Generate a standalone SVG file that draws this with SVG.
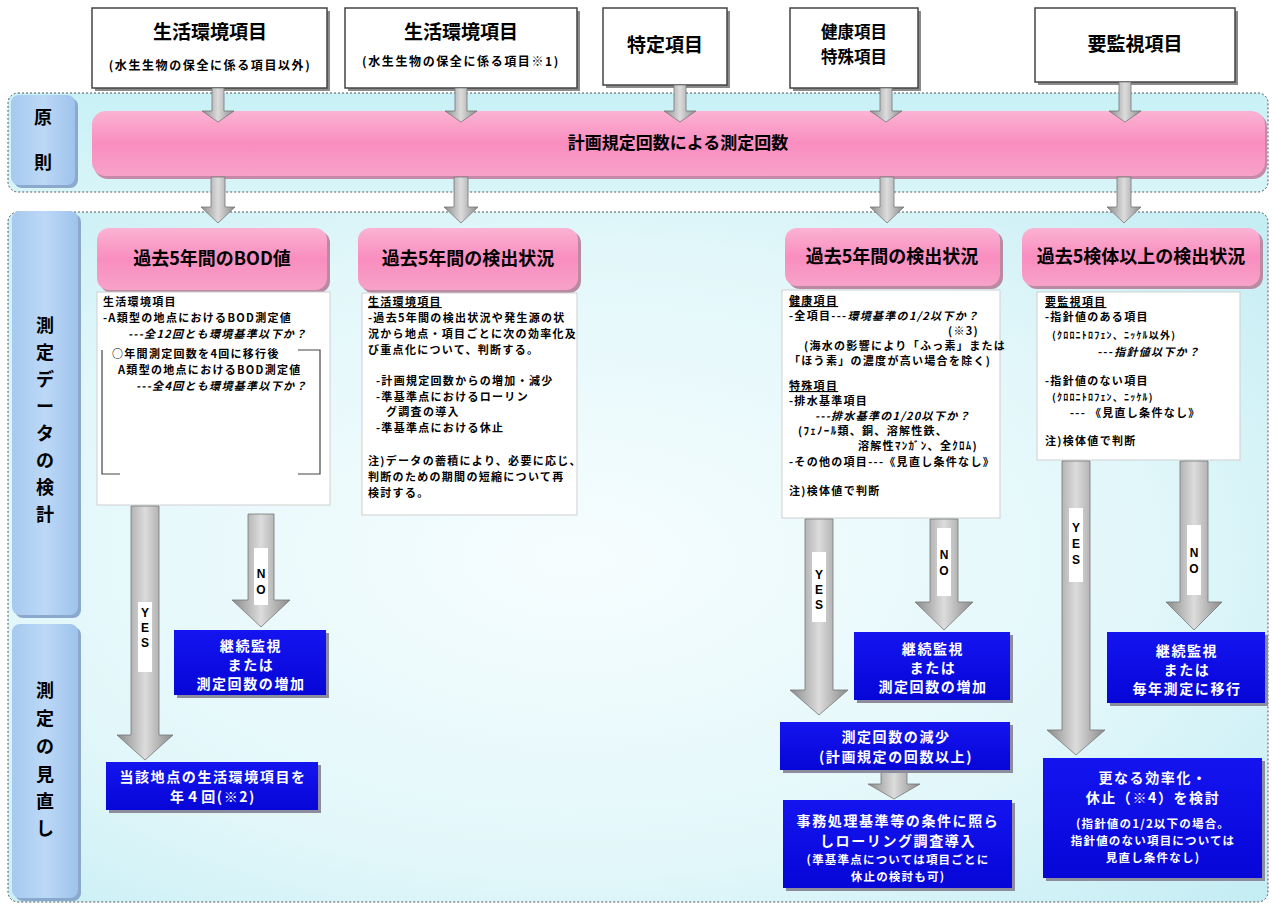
<svg xmlns="http://www.w3.org/2000/svg" width="1272" height="905" viewBox="0 0 1272 905">
<defs>
<linearGradient id="gPink" x1="0" y1="0" x2="0" y2="1">
<stop offset="0" stop-color="#fbb3d3"/><stop offset="0.5" stop-color="#f98dbf"/><stop offset="1" stop-color="#f7a2c9"/>
</linearGradient>
<linearGradient id="gLabel" x1="0" y1="0" x2="1" y2="0">
<stop offset="0" stop-color="#a6c9ef"/><stop offset="0.5" stop-color="#bcd8f6"/><stop offset="1" stop-color="#9ec3ec"/>
</linearGradient>
<linearGradient id="gArrow" x1="0" y1="0" x2="1" y2="0">
<stop offset="0" stop-color="#8a8a8a"/><stop offset="0.5" stop-color="#dcdcdc"/><stop offset="1" stop-color="#8a8a8a"/>
</linearGradient>
<linearGradient id="gBlue" x1="0" y1="0" x2="0" y2="1">
<stop offset="0" stop-color="#1414f0"/><stop offset="1" stop-color="#0606d8"/>
</linearGradient>
<radialGradient id="gBg" cx="0.45" cy="0.5" r="0.75">
<stop offset="0" stop-color="#f6fdfe"/><stop offset="0.6" stop-color="#e2f7fa"/><stop offset="1" stop-color="#c2ecf3"/>
</radialGradient>
<linearGradient id="gBg1" x1="0" y1="0" x2="0" y2="1">
<stop offset="0" stop-color="#c8f1f6"/><stop offset="1" stop-color="#d8f5f8"/>
</linearGradient>
</defs>
<style>
text{font-family:"Noto Sans CJK JP","Noto Sans",sans-serif;font-weight:bold;fill:#000}
.region{stroke:#555;stroke-width:1;stroke-dasharray:2 2}
.topbox{fill:#fff;stroke:#444;stroke-width:1.5}
.shadow{fill:#8a8a8a}
.t19{font-size:19px}
.t17{font-size:16.5px}
.t13{font-size:12px;letter-spacing:1.6px}
.lbl{font-size:18px;text-anchor:middle}
.hdr{font-size:18px;text-anchor:middle}
.band{font-size:17px;text-anchor:middle}
.tb{fill:#fff;stroke:#cfcfcf;stroke-width:1}
.body{font-size:11px;letter-spacing:1.3px}
.sm{font-size:10px;letter-spacing:1.2px}
.it{font-style:italic}
.ul{text-decoration:underline}
.blue{fill:url(#gBlue)}
.bshadow{fill:#8c8c9c}
.wt{fill:#fff;text-anchor:middle;font-size:14px;letter-spacing:1.6px}
.wts{fill:#fff;text-anchor:middle;font-size:11.5px;letter-spacing:1.2px}
.arrow{fill:url(#gArrow);stroke:#777;stroke-width:0.8}
.strip{fill:#fff}
.yn{font-family:"Liberation Sans",Arial,sans-serif;font-size:12px;text-anchor:middle}
.brk{fill:none;stroke:#444;stroke-width:1.2}
</style>

<!-- regions -->
<g id="regions">
<rect class="region" x="8" y="93" width="1260" height="99" rx="10" fill="url(#gBg1)"/>
<rect class="region" x="8" y="212" width="1260" height="690" rx="10" fill="url(#gBg)"/>
</g>

<!-- left labels -->
<g id="label-gensoku">
<rect x="14" y="98" width="64" height="90" rx="8" fill="#8aa9cc"/>
<rect x="11" y="95" width="64" height="90" rx="8" fill="url(#gLabel)"/>
<text class="lbl" x="43" y="124">原</text>
<text class="lbl" x="43" y="169">則</text>
</g>
<g id="label-kento">
<rect x="15" y="214" width="66" height="404" rx="8" fill="#8aa9cc"/>
<rect x="12" y="211" width="66" height="404" rx="8" fill="url(#gLabel)"/>
<text class="lbl" x="45" y="332">測</text>
<text class="lbl" x="45" y="359">定</text>
<text class="lbl" x="45" y="386">デ</text>
<text class="lbl" x="45" y="413">ー</text>
<text class="lbl" x="45" y="440">タ</text>
<text class="lbl" x="45" y="467">の</text>
<text class="lbl" x="45" y="494">検</text>
<text class="lbl" x="45" y="521">計</text>
</g>
<g id="label-minaoshi">
<rect x="15" y="627" width="66" height="274" rx="8" fill="#8aa9cc"/>
<rect x="12" y="624" width="66" height="274" rx="8" fill="url(#gLabel)"/>
<text class="lbl" x="45" y="697">測</text>
<text class="lbl" x="45" y="725">定</text>
<text class="lbl" x="45" y="753">の</text>
<text class="lbl" x="45" y="781">見</text>
<text class="lbl" x="45" y="808">直</text>
<text class="lbl" x="45" y="835">し</text>
</g>

<!-- top boxes -->
<g id="top1">
<rect class="shadow" x="95" y="11" width="235" height="80"/>
<rect class="topbox" x="92" y="8" width="235" height="80"/>
<text class="t19" x="210" y="39" text-anchor="middle">生活環境項目</text>
<text class="t13" x="210" y="70" text-anchor="middle">(水生生物の保全に係る項目以外)</text>
</g>
<g id="top2">
<rect class="shadow" x="348" y="11" width="232" height="80"/>
<rect class="topbox" x="345" y="8" width="232" height="80"/>
<text class="t19" x="461" y="39" text-anchor="middle">生活環境項目</text>
<text class="t13" x="461" y="66" text-anchor="middle">(水生生物の保全に係る項目※1)</text>
</g>
<g id="top3">
<rect class="shadow" x="606" y="11" width="124" height="77"/>
<rect class="topbox" x="603" y="8" width="124" height="77"/>
<text class="t19" x="665" y="52" text-anchor="middle">特定項目</text>
</g>
<g id="top4">
<rect class="shadow" x="793" y="11" width="128" height="80"/>
<rect class="topbox" x="790" y="8" width="128" height="80"/>
<text class="t17" x="854" y="38" text-anchor="middle">健康項目</text>
<text class="t17" x="854" y="63" text-anchor="middle">特殊項目</text>
</g>
<g id="top5">
<rect class="shadow" x="1038" y="11" width="200" height="74"/>
<rect class="topbox" x="1035" y="8" width="200" height="74"/>
<text class="t19" x="1135" y="51" text-anchor="middle">要監視項目</text>
</g>

<!-- pink band -->
<g id="band">
<rect x="94" y="113" width="1173" height="66" rx="14" fill="#c58aa8"/>
<rect x="92" y="111" width="1173" height="65" rx="14" fill="url(#gPink)"/>
<text class="band" x="678" y="149">計画規定回数による測定回数</text>
</g>

<!-- headers -->
<g id="hdr1">
<rect x="100" y="231" width="230" height="62" rx="12" fill="#b98aa2"/>
<rect x="97" y="228" width="230" height="62" rx="12" fill="url(#gPink)"/>
<text class="hdr" x="212" y="265">過去5年間のBOD値</text>
</g>
<g id="hdr2">
<rect x="361" y="231" width="220" height="62" rx="12" fill="#b98aa2"/>
<rect x="358" y="228" width="220" height="62" rx="12" fill="url(#gPink)"/>
<text class="hdr" x="468" y="265">過去5年間の検出状況</text>
</g>
<g id="hdr3">
<rect x="788" y="231" width="215" height="58" rx="12" fill="#b98aa2"/>
<rect x="785" y="228" width="215" height="58" rx="12" fill="url(#gPink)"/>
<text class="hdr" x="892" y="263">過去5年間の検出状況</text>
</g>
<g id="hdr4">
<rect x="1025" y="231" width="238" height="58" rx="12" fill="#b98aa2"/>
<rect x="1022" y="228" width="238" height="58" rx="12" fill="url(#gPink)"/>
<text class="hdr" x="1141" y="263">過去5検体以上の検出状況</text>
</g>

<!-- text boxes -->
<g id="text1">
<rect class="tb" x="97" y="292" width="233" height="213"/>
<text class="body" x="103" y="306">生活環境項目</text>
<text class="body" x="103" y="322">-A類型の地点におけるBOD測定値</text>
<text class="body it" x="128" y="338">---全12回とも環境基準以下か？</text>
<path class="brk" d="M102,350 V474 H120 M298,350 H320 V474 H298"/>
<text class="body" x="112" y="358">○年間測定回数を4回に移行後</text>
<text class="body" x="118" y="374">A類型の地点におけるBOD測定値</text>
<text class="body it" x="136" y="390">---全4回とも環境基準以下か？</text>
</g>
<g id="text2">
<rect class="tb" x="362" y="293" width="215" height="222"/>
<text class="body ul" x="368" y="306">生活環境項目</text>
<text class="body" x="368" y="322">-過去5年間の検出状況や発生源の状</text>
<text class="body" x="368" y="338">況から地点・項目ごとに次の効率化及</text>
<text class="body" x="368" y="354">び重点化について、判断する。</text>
<text class="body" x="376" y="385">-計画規定回数からの増加・減少</text>
<text class="body" x="376" y="401">-準基準点におけるローリン</text>
<text class="body" x="386" y="416">グ調査の導入</text>
<text class="body" x="376" y="432">-準基準点における休止</text>
<text class="body" x="368" y="465">注)データの蓄積により、必要に応じ、</text>
<text class="body" x="368" y="481">判断のための期間の短縮について再</text>
<text class="body" x="368" y="497">検討する。</text>
</g>
<g id="text3">
<rect class="tb" x="782" y="290" width="218" height="228"/>
<text class="body ul" x="789" y="305">健康項目</text>
<text class="body" x="789" y="320">-全項目---<tspan class="it">環境基準の1/2以下か？</tspan></text>
<text class="body" x="948" y="335">(※3)</text>
<text class="body" x="804" y="350">(海水の影響により「ふっ素」または</text>
<text class="body" x="789" y="365">「ほう素」の濃度が高い場合を除く)</text>
<text class="body ul" x="789" y="390">特殊項目</text>
<text class="body" x="789" y="405">-排水基準項目</text>
<text class="body it" x="815" y="420">---排水基準の1/20以下か？</text>
<text class="body" x="798" y="435">(ﾌｪﾉｰﾙ類、銅、溶解性鉄、</text>
<text class="body" x="858" y="450">溶解性ﾏﾝｶﾞﾝ、全ｸﾛﾑ)</text>
<text class="body" x="789" y="466">-その他の項目---《見直し条件なし》</text>
<text class="body" x="789" y="495">注)検体値で判断</text>
</g>
<g id="text4">
<rect class="tb" x="1037" y="292" width="203" height="168"/>
<text class="body ul" x="1045" y="306">要監視項目</text>
<text class="body" x="1045" y="321">-指針値のある項目</text>
<text class="body sm" x="1052" y="339">(ｸﾛﾛﾆﾄﾛﾌｪﾝ、ﾆｯｹﾙ以外)</text>
<text class="body" x="1098" y="356">---<tspan class="it">指針値以下か？</tspan></text>
<text class="body" x="1045" y="385">-指針値のない項目</text>
<text class="body sm" x="1052" y="401">(ｸﾛﾛﾆﾄﾛﾌｪﾝ、ﾆｯｹﾙ)</text>
<text class="body" x="1070" y="417">--- 《見直し条件なし》</text>
<text class="body" x="1045" y="445">注)検体値で判断</text>
</g>

<!-- connectors -->
<g id="connectors">
<polygon class="arrow" points="212,88 224,88 224,111 234,111 218,122 202,111 212,111"/>
<polygon class="arrow" points="455,88 467,88 467,111 477,111 461,122 445,111 455,111"/>
<polygon class="arrow" points="674,85 686,85 686,111 696,111 680,122 664,111 674,111"/>
<polygon class="arrow" points="880,88 892,88 892,111 902,111 886,122 870,111 880,111"/>
<polygon class="arrow" points="1119,82 1131,82 1131,111 1141,111 1125,122 1109,111 1119,111"/>

<polygon class="arrow" points="211,177 225,177 225,207 235,207 218,223 201,207 211,207"/>
<polygon class="arrow" points="454,177 468,177 468,207 478,207 461,223 444,207 454,207"/>
<polygon class="arrow" points="880,177 894,177 894,207 904,207 887,223 870,207 880,207"/>
<polygon class="arrow" points="1117,177 1131,177 1131,207 1141,207 1124,223 1107,207 1117,207"/>

<polygon class="arrow" points="131,506 159,506 159,735 173,735 145,760 117,735 131,735"/>
<rect class="strip" x="138" y="602" width="14" height="70"/>
<text class="yn" x="145" y="617">Y</text><text class="yn" x="145" y="632">E</text><text class="yn" x="145" y="647">S</text>

<polygon class="arrow" points="248,514 274,514 274,600 290,600 261,627 232,600 248,600"/>
<rect class="strip" x="254" y="548" width="14" height="57"/>
<text class="yn" x="261" y="578">N</text><text class="yn" x="261" y="594">O</text>

<polygon class="arrow" points="805,519 833,519 833,690 848,690 819,715 790,690 805,690"/>
<rect class="strip" x="812" y="552" width="14" height="70"/>
<text class="yn" x="819" y="579">Y</text><text class="yn" x="819" y="594">E</text><text class="yn" x="819" y="609">S</text>

<polygon class="arrow" points="930,519 958,519 958,602 973,602 944,630 915,602 930,602"/>
<rect class="strip" x="937" y="528" width="14" height="68"/>
<text class="yn" x="944" y="559">N</text><text class="yn" x="944" y="575">O</text>

<polygon class="arrow" points="1062,461 1090,461 1090,730 1105,730 1076,755 1047,730 1062,730"/>
<rect class="strip" x="1069" y="508" width="14" height="74"/>
<text class="yn" x="1076" y="532">Y</text><text class="yn" x="1076" y="548">E</text><text class="yn" x="1076" y="564">S</text>

<polygon class="arrow" points="1180,461 1208,461 1208,602 1222,602 1194,630 1166,602 1180,602"/>
<rect class="strip" x="1187" y="525" width="14" height="70"/>
<text class="yn" x="1194" y="557">N</text><text class="yn" x="1194" y="573">O</text>

<polygon class="arrow" points="881,772 907,772 907,784 920,784 894,799 868,784 881,784"/>
</g>

<!-- blue boxes -->
<g id="b1">
<rect class="bshadow" x="177" y="633" width="152" height="65"/>
<rect class="blue" x="174" y="630" width="152" height="65"/>
<text class="wt" x="251" y="651">継続監視</text>
<text class="wt" x="251" y="670">または</text>
<text class="wt" x="251" y="689">測定回数の増加</text>
</g>
<g id="b2">
<rect class="bshadow" x="109" y="765" width="212" height="48"/>
<rect class="blue" x="106" y="762" width="212" height="48"/>
<text class="wt" x="213" y="782">当該地点の生活環境項目を</text>
<text class="wt" x="213" y="802">年４回(※2)</text>
</g>
<g id="b3">
<rect class="bshadow" x="857" y="635" width="156" height="68"/>
<rect class="blue" x="854" y="632" width="156" height="68"/>
<text class="wt" x="933" y="654">継続監視</text>
<text class="wt" x="933" y="673">または</text>
<text class="wt" x="933" y="692">測定回数の増加</text>
</g>
<g id="b4">
<rect class="bshadow" x="783" y="725" width="230" height="48"/>
<rect class="blue" x="780" y="722" width="230" height="48"/>
<text class="wt" x="896" y="742">測定回数の減少</text>
<text class="wt" x="896" y="762">(計画規定の回数以上)</text>
</g>
<g id="b5">
<rect class="bshadow" x="786" y="803" width="229" height="88"/>
<rect class="blue" x="783" y="800" width="229" height="88"/>
<text class="wt" x="898" y="826">事務処理基準等の条件に照ら</text>
<text class="wt" x="898" y="846">しローリング調査導入</text>
<text class="wts" x="898" y="864">(準基準点については項目ごとに</text>
<text class="wts" x="898" y="881">休止の検討も可)</text>
</g>
<g id="b6">
<rect class="bshadow" x="1110" y="635" width="158" height="71"/>
<rect class="blue" x="1107" y="632" width="158" height="71"/>
<text class="wt" x="1187" y="656">継続監視</text>
<text class="wt" x="1187" y="675">または</text>
<text class="wt" x="1187" y="694">毎年測定に移行</text>
</g>
<g id="b7">
<rect class="bshadow" x="1046" y="761" width="219" height="120"/>
<rect class="blue" x="1043" y="758" width="219" height="120"/>
<text class="wt" x="1153" y="783">更なる効率化・</text>
<text class="wt" x="1153" y="803">休止（※4）を検討</text>
<text class="wts" x="1153" y="828">(指針値の1/2以下の場合。</text>
<text class="wts" x="1153" y="845">指針値のない項目については</text>
<text class="wts" x="1153" y="862">見直し条件なし)</text>
</g>
</svg>
